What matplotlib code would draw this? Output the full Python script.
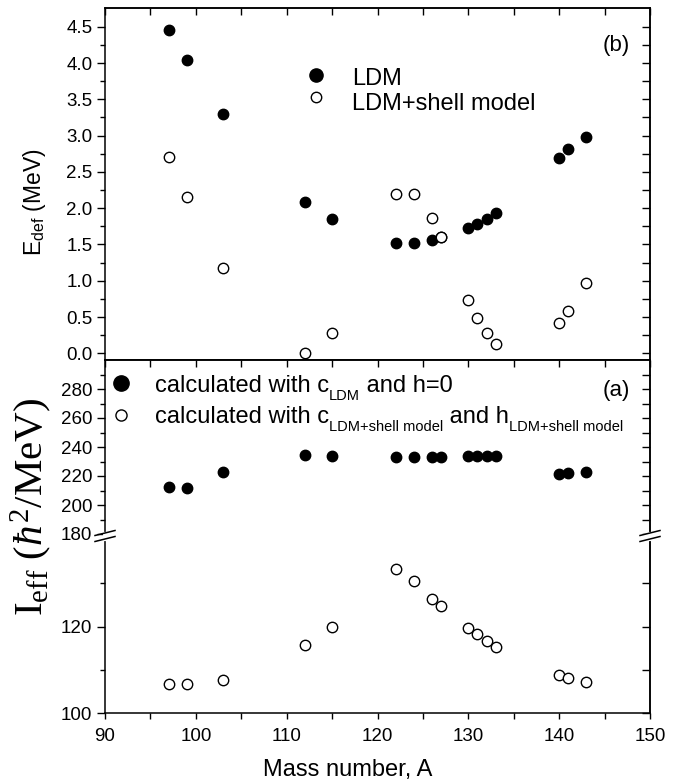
import numpy as np
import matplotlib
matplotlib.use('Agg')
import matplotlib.pyplot as plt
from matplotlib.lines import Line2D
from matplotlib.ticker import MultipleLocator, FixedLocator, FormatStrFormatter

plt.rcParams['font.family'] = 'Liberation Sans'
plt.rcParams['mathtext.fontset'] = 'custom'
plt.rcParams['mathtext.rm'] = 'Liberation Serif'
plt.rcParams['mathtext.it'] = 'Liberation Serif:italic'
plt.rcParams['mathtext.sf'] = 'Liberation Sans'
plt.rcParams['axes.linewidth'] = 1.1

# data
mass = [97, 99, 103, 112, 115, 122, 124, 126, 127, 130, 131, 132, 133, 140, 141, 143]
edef_ldm = [4.46, 4.04, 3.30, 2.09, 1.85, 1.515, 1.515, 1.56, 1.60, 1.72, 1.78, 1.85, 1.93, 2.69, 2.82, 2.98]
edef_shell = [2.70, 2.15, 1.18, 0.00, 0.28, 2.19, 2.19, 1.86, 1.60, 0.73, 0.48, 0.28, 0.13, 0.42, 0.59, 0.97]
ieff_ldm = [212.4, 211.5, 222.6, 234.2, 233.7, 233.2, 233.2, 233.2, 233.2, 233.8, 233.8, 233.8, 234.0, 221.6, 221.8, 222.6]
ieff_shell = [106.8, 106.8, 107.8, 115.7, 120.0, 133.3, 130.6, 126.5, 124.7, 119.6, 118.2, 116.8, 115.4, 108.8, 108.2, 107.3]

e_ticks = [0.0, 0.5, 1.0, 1.5, 2.0, 2.5, 3.0, 3.5, 4.0, 4.5]
e_minor = [0.25, 0.75, 1.25, 1.75, 2.25, 2.75, 3.25, 3.75, 4.25]
hi_ticks = [180, 200, 220, 240, 260, 280]
hi_minor = [190, 210, 230, 250, 270, 290]
lo_ticks = [100, 120]
lo_minor = [110, 130]

W, H = 683, 781
fig = plt.figure(figsize=(W / 100, H / 100), dpi=100)


def fx(px):
    return px / W


def fy(py):
    return 1 - py / H


def axes_box(top, bottom):
    return fig.add_axes([fx(105), fy(bottom), fx(650) - fx(105), (bottom - top) / H])


ax_e = axes_box(8, 360)
ax_hi = axes_box(360, 534)
ax_lo = axes_box(534, 713.3)


def setup(ax, ylim, major, minor, top, bottom, fmt=None):
    ax.set_xlim(90, 150)
    ax.set_ylim(*ylim)
    ax.xaxis.set_major_locator(MultipleLocator(10))
    ax.xaxis.set_minor_locator(MultipleLocator(5))
    ax.yaxis.set_major_locator(FixedLocator(major))
    ax.yaxis.set_minor_locator(FixedLocator(minor))
    if fmt:
        ax.yaxis.set_major_formatter(FormatStrFormatter(fmt))
    ax.tick_params(axis='y', which='both', direction='out', left=True, right=False,
                   labelsize=13.5, pad=3, width=1)
    ax.tick_params(axis='y', which='major', length=6)
    ax.tick_params(axis='y', which='minor', length=3.5)
    sec = ax.secondary_yaxis('right')
    sec.yaxis.set_major_locator(FixedLocator(major))
    sec.yaxis.set_minor_locator(FixedLocator(minor))
    sec.tick_params(which='both', direction='in', length=5.5, width=1, labelright=False)
    sec.spines['right'].set_linewidth(1.1)
    if bottom:
        ax.tick_params(axis='x', which='both', direction='out', bottom=True, top=False,
                       labelsize=13.5, pad=6, width=1, length=4.5)
    else:
        ax.tick_params(axis='x', which='both', bottom=False, top=False, labelbottom=False)
    if top:
        secx = ax.secondary_xaxis('top')
        secx.xaxis.set_major_locator(MultipleLocator(10))
        secx.xaxis.set_minor_locator(MultipleLocator(5))
        secx.tick_params(which='both', direction='in', length=5, width=1, labeltop=False)
        secx.spines['top'].set_linewidth(1.1)


setup(ax_e, (-0.092, 4.758), e_ticks, e_minor, top=True, bottom=False, fmt='%.1f')
setup(ax_hi, (180, 300), hi_ticks, hi_minor, top=True, bottom=False)
setup(ax_lo, (100, 141.4), lo_ticks, lo_minor, top=False, bottom=True)
ax_hi.spines['bottom'].set_visible(False)
ax_lo.spines['top'].set_visible(False)

ms = 7.5
ax_e.plot(mass, edef_ldm, 'o', ms=ms, mfc='k', mec='k', ls='none')
ax_e.plot(mass, edef_shell, 'o', ms=ms, mfc='white', mec='k', mew=1.0, ls='none')
ax_hi.plot(mass, ieff_ldm, 'o', ms=ms, mfc='k', mec='k', ls='none')
ax_lo.plot(mass, ieff_shell, 'o', ms=ms, mfc='white', mec='k', mew=1.0, ls='none')

# axis break marks
for xs in [105, 650]:
    fig.add_artist(Line2D([fx(xs), fx(xs)], [fy(534), fy(538.5)], color='white', lw=3))
    for c in [533, 539]:
        fig.add_artist(Line2D([fx(xs - 10), fx(xs + 10)], [fy(c + 2.5), fy(c - 2.5)],
                              color='k', lw=1.1))

# labels
fig.text(fx(34), fy(202), r'E$_{\mathsf{def}}$ (MeV)', rotation=90, fontsize=16.5,
         ha='center', va='center')
fig.text(fx(31), fy(507), '$\\mathrm{I_{eff}\\ (}\\mathit{\u0127}^{\\mathrm{2}}\\mathrm{/MeV)}$',
         rotation=90, fontsize=29.5, ha='center', va='center')
fig.text(fx(348), fy(776), 'Mass number, A', fontsize=17, ha='center', va='baseline')
fig.text(fx(603), fy(51), '(b)', fontsize=16, va='baseline')
fig.text(fx(603), fy(396), '(a)', fontsize=16, va='baseline')

renderer = fig.canvas.get_renderer()


def put_pieces(x, y, pieces):
    for s, size, dy in pieces:
        t = fig.text(fx(x), fy(y + dy), s, fontsize=size, ha='left', va='baseline')
        x += t.get_window_extent(renderer).width


def put_marker(x, y, filled, size):
    fig.add_artist(Line2D([fx(x)], [fy(y)], marker='o', ms=size, ls='none',
                          mfc='k' if filled else 'white', mec='k', mew=1.0))


# legend of panel (b)
put_marker(316, 75, True, 9.5)
put_marker(316, 97, False, 7.5)
put_pieces(352, 85, [('LDM', 17, 0)])
put_pieces(352, 110, [('LDM+shell model', 17, 0)])

# legend of panel (a)
put_marker(120.7, 383, True, 11)
put_marker(120.7, 415, False, 8)
put_pieces(155, 391.5, [('calculated with c', 17, 0), ('LDM', 10.5, 8), (' and h=0', 17, 0)])
put_pieces(155, 423, [('calculated with c', 17, 0), ('LDM+shell model', 10.5, 8),
                      (' and h', 17, 0), ('LDM+shell model', 10.5, 8)])

fig.savefig('out.png', dpi=100)
